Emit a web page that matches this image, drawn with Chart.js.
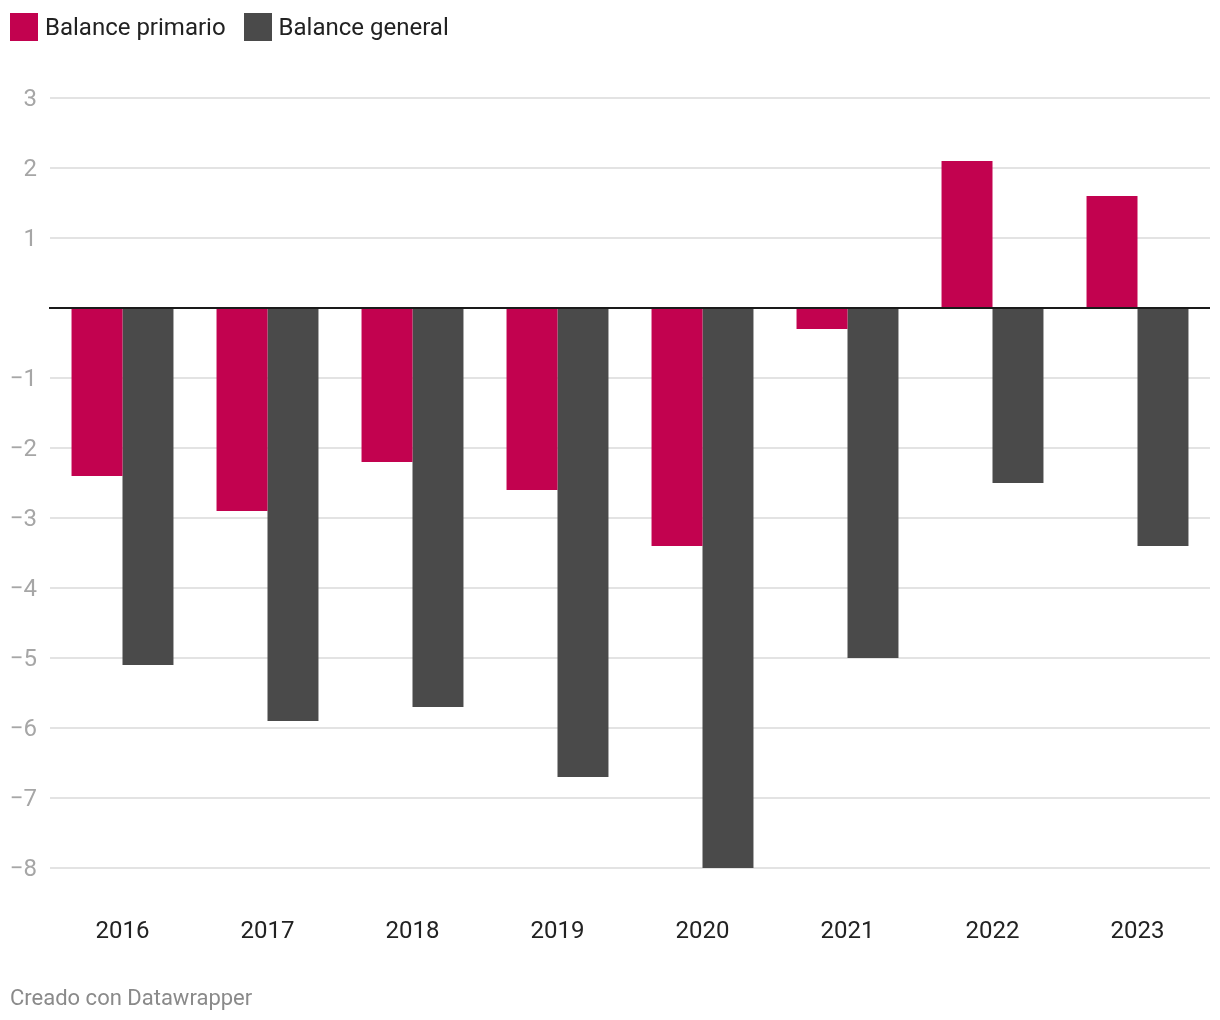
<!DOCTYPE html>
<html><head><meta charset="utf-8">
<script src="https://cdn.jsdelivr.net/npm/chart.js@4"></script>
<style>
html,body{margin:0;padding:0;background:#fff;font-family:Roboto,"Noto Sans",sans-serif;}
#wrap{position:relative;width:1220px;height:1020px;overflow:hidden;}
#chart{position:absolute;left:0;top:0;}
.legend{position:absolute;top:12px;left:10px;display:flex;align-items:center;font-size:24px;color:#222;line-height:30px;}
.item{display:flex;align-items:center;margin-right:18px;}
.sw{width:28px;height:28px;margin-right:7px;}
.foot{position:absolute;left:10px;top:985px;font-size:22px;color:#8a8a8a;line-height:26px;}
</style></head>
<body><div id="wrap">
<canvas id="chart" width="1220" height="1020"></canvas>
<div class="legend" id="legend"></div>
<div class="foot">Creado con Datawrapper</div>
</div>
<script>
const categories = ["2016","2017","2018","2019","2020","2021","2022","2023"];
const balancePrimario = [-2.4,-2.9,-2.2,-2.6,-3.4,-0.3,2.1,1.6];
const balanceGeneral = [-5.1,-5.9,-5.7,-6.7,-8.0,-5.0,-2.5,-3.4];
const seriesNames = ["Balance primario","Balance general"];
const colors = ["#c2024f","#4a4a4a"];
const yTicks = [3,2,1,0,-1,-2,-3,-4,-5,-6,-7,-8];

const leg = document.getElementById('legend');
seriesNames.forEach((n,i)=>{
  const d=document.createElement('div');d.className='item';
  d.innerHTML='<div class="sw" style="background:'+colors[i]+'"></div><span>'+n+'</span>';
  leg.appendChild(d);
});

const zeroLine = {
  id:'zeroLine',
  afterDatasetsDraw(chart){
    const y = chart.scales.y.getPixelForValue(0);
    const ctx = chart.ctx;
    ctx.save();
    ctx.strokeStyle='#1a1a1a';ctx.lineWidth=2;
    ctx.beginPath();ctx.moveTo(chart.chartArea.left-1,y);ctx.lineTo(chart.chartArea.right,y);ctx.stroke();
    ctx.restore();
  }
};

new Chart(document.getElementById('chart'),{
  type:'bar',
  data:{labels:categories,datasets:[
    {label:seriesNames[0],data:balancePrimario,backgroundColor:colors[0]},
    {label:seriesNames[1],data:balanceGeneral,backgroundColor:colors[1]}
  ]},
  options:{
    responsive:false,animation:false,
    layout:{padding:{top:98,right:10,left:0,bottom:0}},
    datasets:{bar:{barPercentage:1,categoryPercentage:0.703}},
    plugins:{legend:{display:false},tooltip:{enabled:false}},
    scales:{
      x:{
        grid:{display:false,drawTicks:false},
        border:{display:false},
        ticks:{color:'#222',font:{family:'Roboto',size:24},padding:50,maxRotation:0},
        afterFit(s){s.height=152;}
      },
      y:{
        min:-8,max:3,
        afterBuildTicks(s){s.ticks=yTicks.map(v=>({value:v}));},
        grid:{color:(c)=>c.tick&&c.tick.value===0?'rgba(0,0,0,0)':'#e3e3e3',lineWidth:2,drawTicks:false},
        border:{display:false},
        ticks:{color:'#a6a6a6',font:{family:'Roboto',size:24},padding:13,labelOffset:2,
          callback:(v)=>v===0?'':String(v).replace('-','\u2212')},
        afterFit(s){s.width=50;}
      }
    }
  },
  plugins:[zeroLine]
});
</script></body></html>
